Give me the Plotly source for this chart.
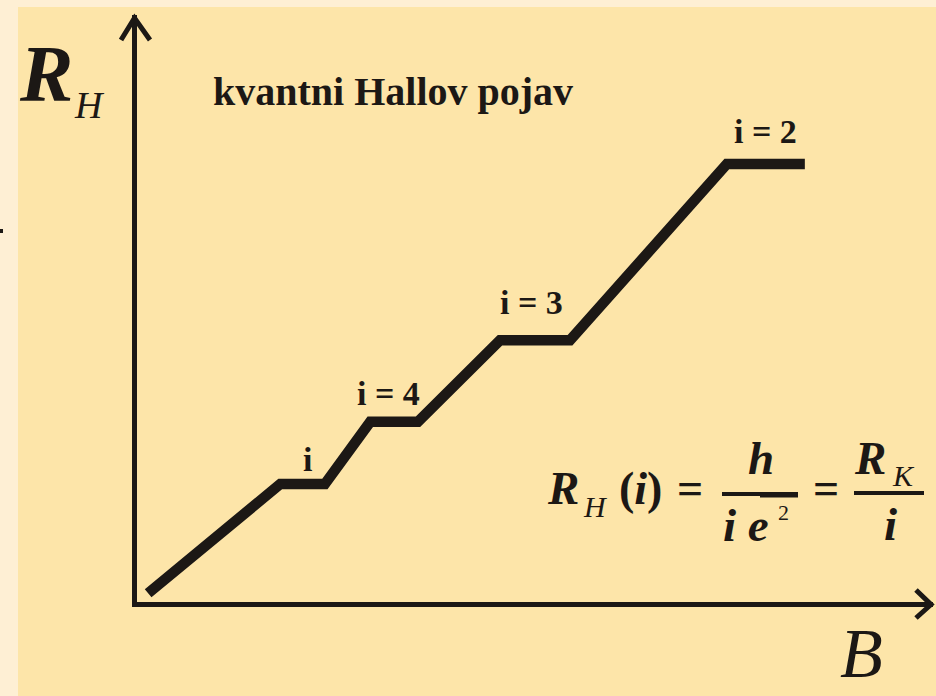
import plotly.graph_objects as go

# ---------------- data (arbitrary units) ----------------
B_vals = [0.14, 1.80, 2.36, 2.93, 3.53, 4.56, 5.44, 7.41, 8.39]
RH_vals = [0.15, 2.01, 2.01, 3.07, 3.07, 4.46, 4.46, 7.46, 7.46]
plateau_labels = ["i", "i = 4", "i = 3", "i = 2"]
plateau_start = [1, 3, 5, 7]          # index of the first point of each plateau

# label offsets in pixels (layout only)
label_xshift = [5, -5.6, -3.5, 0]
label_yshift = [24.5, 28.5, 37.5, 32.5]

# ---------------- styling ----------------
W, H = 936, 696
ML, MR, MT, MB = 137, 3, 15, 94
PW, PH = W - ML - MR, H - MT - MB
INK = "#1c1815"
BG = "#FDE5A9"
BG_EDGE = "#FEEFD4"
SERIF = "Liberation Serif, Times New Roman, serif"


def px(x):
    return (x - ML) / PW


def py(y):
    return (MT + PH - y) / PH


fig = go.Figure()
fig.add_trace(go.Scatter(
    x=B_vals, y=RH_vals, mode="lines",
    line=dict(color=INK, width=10.5),
    hoverinfo="skip", showlegend=False,
))

annotations = []

# plateau labels
for k, (lab, i0) in enumerate(zip(plateau_labels, plateau_start)):
    annotations.append(dict(
        x=(B_vals[i0] + B_vals[i0 + 1]) / 2, y=RH_vals[i0], xref="x", yref="y",
        text="<b>%s</b>" % lab, showarrow=False,
        xanchor="center", yanchor="middle",
        xshift=label_xshift[k], yshift=label_yshift[k],
        font=dict(family=SERIF, size=34, color=INK),
    ))


def txt(cx, baseline, text, size):
    cy = baseline - 0.3375 * size
    annotations.append(dict(
        x=px(cx), y=py(cy), xref="paper", yref="paper", text=text,
        showarrow=False, xanchor="center", yanchor="middle",
        font=dict(family=SERIF, size=size, color=INK),
    ))


# title and axis titles
txt(392.5, 105, "<b>kvantni Hallov pojav</b>", 40)
txt(46, 101, "<b><i>R</i></b>", 80)
txt(89, 118, "<i>H</i>", 38)
txt(861, 677, "<i>B</i>", 70)

# formula  R_H(i) = h / (i e^2) = R_K / i
txt(563, 504, "<b><i>R</i></b>", 47)
txt(595, 517, "<i>H</i>", 30)
txt(640, 504, "<b>(<i>i</i>)</b>", 46)
txt(690, 504, "<b>=</b>", 46)
txt(761, 474, "<b><i>h</i></b>", 47)
txt(746, 541, "<b><i>i e</i></b>", 47)
txt(783, 520, "2", 22)
txt(826, 504, "<b>=</b>", 46)
txt(870, 474, "<b><i>R</i></b>", 47)
txt(903.5, 486, "<i>K</i>", 30)
txt(890.5, 540, "<b><i>i</i></b>", 47)

shapes = [
    # beige panel over lighter edge strips
    dict(type="rect", xref="paper", yref="paper", layer="below",
         x0=px(18), x1=px(W), y0=py(H), y1=py(7),
         fillcolor=BG, line=dict(width=0)),
    # small dark mark on the left edge
    dict(type="rect", xref="paper", yref="paper",
         x0=px(0), x1=px(3), y0=py(233), y1=py(229),
         fillcolor=INK, line=dict(width=0)),
    # arrow heads of the axes
    dict(type="path", xref="paper", yref="paper",
         path="M %f,%f L %f,%f L %f,%f" % (px(121), py(40), px(134.5), py(18), px(150), py(40)),
         line=dict(color=INK, width=5)),
    dict(type="path", xref="paper", yref="paper",
         path="M %f,%f L %f,%f L %f,%f" % (px(916), py(590), px(931), py(604.5), px(916), py(618)),
         line=dict(color=INK, width=5)),
    # fraction bars
    dict(type="line", xref="paper", yref="paper",
         x0=px(722), x1=px(798), y0=py(494), y1=py(494), line=dict(color=INK, width=4)),
    dict(type="line", xref="paper", yref="paper",
         x0=px(760), x1=px(798), y0=py(495), y1=py(495), line=dict(color=INK, width=5)),
    dict(type="line", xref="paper", yref="paper",
         x0=px(854), x1=px(924), y0=py(493), y1=py(493), line=dict(color=INK, width=4)),
]

axis_common = dict(
    range=[0, 10], showline=True, linewidth=5, linecolor=INK,
    showgrid=False, zeroline=False, showticklabels=False, ticks="",
    fixedrange=True,
)

fig.update_layout(
    width=W, height=H, autosize=False,
    margin=dict(l=ML, r=MR, t=MT, b=MB, pad=0),
    paper_bgcolor=BG_EDGE, plot_bgcolor=BG,
    xaxis=axis_common, yaxis=axis_common,
    annotations=annotations, shapes=shapes,
    showlegend=False,
)

fig.write_html("out.html", config={"displayModeBar": False},
               post_script="document.body.style.margin='0';")
